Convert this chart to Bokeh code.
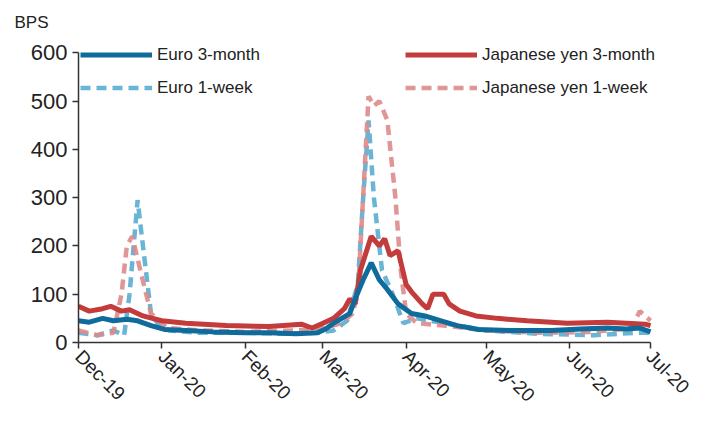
import math
import pandas as pd
from bokeh.plotting import figure
from bokeh.models import Legend, LegendItem, DatetimeTickFormatter, FixedTicker
from bokeh.embed import file_html
from bokeh.resources import INLINE

# data (bps)
eur3m_dates = ["2019-12-01", "2019-12-05", "2019-12-10", "2019-12-14", "2019-12-19", "2019-12-23",
               "2019-12-28", "2020-01-02", "2020-01-10", "2020-01-20", "2020-02-01", "2020-02-10",
               "2020-02-20", "2020-02-28", "2020-03-02", "2020-03-05", "2020-03-08", "2020-03-11",
               "2020-03-13", "2020-03-16", "2020-03-19", "2020-03-22", "2020-03-25", "2020-03-29",
               "2020-04-03", "2020-04-08", "2020-04-14", "2020-04-20", "2020-04-28", "2020-05-10",
               "2020-05-25", "2020-06-05", "2020-06-15", "2020-06-22", "2020-06-27", "2020-07-01"]
eur3m = [45, 42, 50, 45, 48, 45, 35, 27, 25, 22, 20, 20, 18, 20, 28, 40, 50, 60,
         90, 130, 165, 130, 110, 80, 60, 55, 45, 35, 27, 25, 25, 28, 30, 28, 30, 22]

eur1w_dates = ["2019-12-01", "2019-12-08", "2019-12-14", "2019-12-18", "2019-12-20", "2019-12-23",
               "2019-12-25", "2019-12-28", "2019-12-31", "2020-01-04", "2020-01-15", "2020-02-01",
               "2020-02-15", "2020-02-28", "2020-03-05", "2020-03-10", "2020-03-14", "2020-03-16",
               "2020-03-18", "2020-03-20", "2020-03-23", "2020-03-27", "2020-03-31", "2020-04-05",
               "2020-04-15", "2020-05-01", "2020-05-20", "2020-06-10", "2020-06-25", "2020-07-01"]
eur1w = [20, 15, 25, 15, 100, 295, 200, 60, 35, 25, 20, 20, 18, 20, 25, 45, 120, 300,
         460, 300, 150, 100, 40, 50, 40, 25, 18, 15, 20, 20]

jpy3m_dates = ["2019-12-01", "2019-12-05", "2019-12-10", "2019-12-13", "2019-12-17", "2019-12-20",
               "2019-12-25", "2020-01-01", "2020-01-10", "2020-01-25", "2020-02-10", "2020-02-22",
               "2020-02-26", "2020-03-01", "2020-03-05", "2020-03-09", "2020-03-11", "2020-03-13",
               "2020-03-15", "2020-03-19", "2020-03-22", "2020-03-24", "2020-03-26", "2020-03-29",
               "2020-04-01", "2020-04-03", "2020-04-07", "2020-04-09", "2020-04-11", "2020-04-15",
               "2020-04-17", "2020-04-21", "2020-04-27", "2020-05-05", "2020-05-16", "2020-05-31",
               "2020-06-15", "2020-06-29", "2020-07-01"]
jpy3m = [75, 65, 70, 75, 65, 68, 55, 45, 40, 35, 33, 38, 30, 40, 50, 70, 90, 80,
         150, 220, 200, 215, 180, 190, 120, 105, 80, 70, 100, 100, 80, 65, 55, 50,
         45, 40, 42, 38, 35]

jpy1w_dates = ["2019-12-01", "2019-12-08", "2019-12-14", "2019-12-17", "2019-12-19", "2019-12-21",
               "2019-12-24", "2019-12-28", "2020-01-03", "2020-01-15", "2020-02-01", "2020-02-20",
               "2020-03-01", "2020-03-08", "2020-03-12", "2020-03-14", "2020-03-15", "2020-03-18",
               "2020-03-20", "2020-03-22", "2020-03-25", "2020-03-28", "2020-03-30", "2020-04-01",
               "2020-04-05", "2020-04-15", "2020-05-01", "2020-05-20", "2020-06-10", "2020-06-24",
               "2020-06-27", "2020-07-01"]
jpy1w = [25, 15, 20, 100, 200, 220, 150, 60, 30, 25, 22, 25, 30, 40, 60, 100, 200, 510,
         490, 500, 460, 300, 150, 60, 40, 35, 25, 20, 22, 30, 65, 45]

month_ticks = ["2019-12-01", "2020-01-01", "2020-02-01", "2020-03-01", "2020-04-01",
               "2020-05-01", "2020-06-01", "2020-07-01"]

def d(lst):
    return pd.to_datetime(lst)

start = d(["2019-12-01"])[0]
end = d(["2020-07-01"])[0]

p = figure(width=693, height=416, x_axis_type="datetime", output_backend="svg",
           toolbar_location=None, y_range=(0, 640),
           x_range=(start, end + pd.Timedelta(days=16)),
           min_border_left=78, min_border_right=0, min_border_top=33, min_border_bottom=73)
p.outline_line_color = None
p.xgrid.visible = False
p.ygrid.visible = False

p.title.text = "BPS"
p.title.text_font = "Liberation Sans"
p.title.text_font_size = "17px"
p.title.text_font_style = "normal"
p.title.text_color = "#222222"
p.title.offset = -64
p.title.standoff = 4

c_eur3 = "#0f6b9c"
c_eur1 = "#5aacd0"
c_jpy3 = "#c33b3b"
c_jpy1 = "#dd8b8b"

r_e1 = p.line(d(eur1w_dates), eur1w, line_color=c_eur1, line_width=4.5, line_dash="10 6", line_alpha=0.9)
r_j1 = p.line(d(jpy1w_dates), jpy1w, line_color=c_jpy1, line_width=4.5, line_dash="10 6", line_alpha=0.9)
r_j3 = p.line(d(jpy3m_dates), jpy3m, line_color=c_jpy3, line_width=5)
r_e3 = p.line(d(eur3m_dates), eur3m, line_color=c_eur3, line_width=5)

font = "Liberation Sans"
for ax in (p.xaxis[0], p.yaxis[0]):
    ax.axis_line_color = "#333333"
    ax.axis_line_width = 1.5
    ax.major_tick_line_color = "#333333"
    ax.major_tick_line_width = 1.5
    ax.minor_tick_line_color = None
    ax.major_tick_in = 0
    ax.major_tick_out = 6
    ax.major_label_text_font = font
    ax.major_label_text_color = "#222222"

p.xaxis.bounds = (start, end)
p.yaxis.bounds = (0, 600)
p.yaxis.ticker = FixedTicker(ticks=[0, 100, 200, 300, 400, 500, 600])
p.yaxis.major_label_text_font_size = "22px"
p.xaxis.ticker = FixedTicker(ticks=[t.timestamp() * 1000 for t in d(month_ticks)])
p.xaxis.formatter = DatetimeTickFormatter(months="%b-%y", days="%b-%y")
p.xaxis.major_label_text_font_size = "19px"
p.xaxis.major_label_orientation = -math.pi / 4

def legend(items, x):
    lg = Legend(items=items, location=(x, 238), background_fill_alpha=0, border_line_color=None,
                label_text_font=font, label_text_font_size="17px", label_text_color="#222222",
                glyph_width=72, glyph_height=33, label_height=33, spacing=0, padding=0,
                margin=0, label_standoff=5)
    p.add_layout(lg)

legend([LegendItem(label="Euro 3-month", renderers=[r_e3]),
        LegendItem(label="Euro 1-week", renderers=[r_e1])], 2)
legend([LegendItem(label="Japanese yen 3-month", renderers=[r_j3]),
        LegendItem(label="Japanese yen 1-week", renderers=[r_j1])], 327)

open("out.html", "w").write(file_html(p, INLINE))
